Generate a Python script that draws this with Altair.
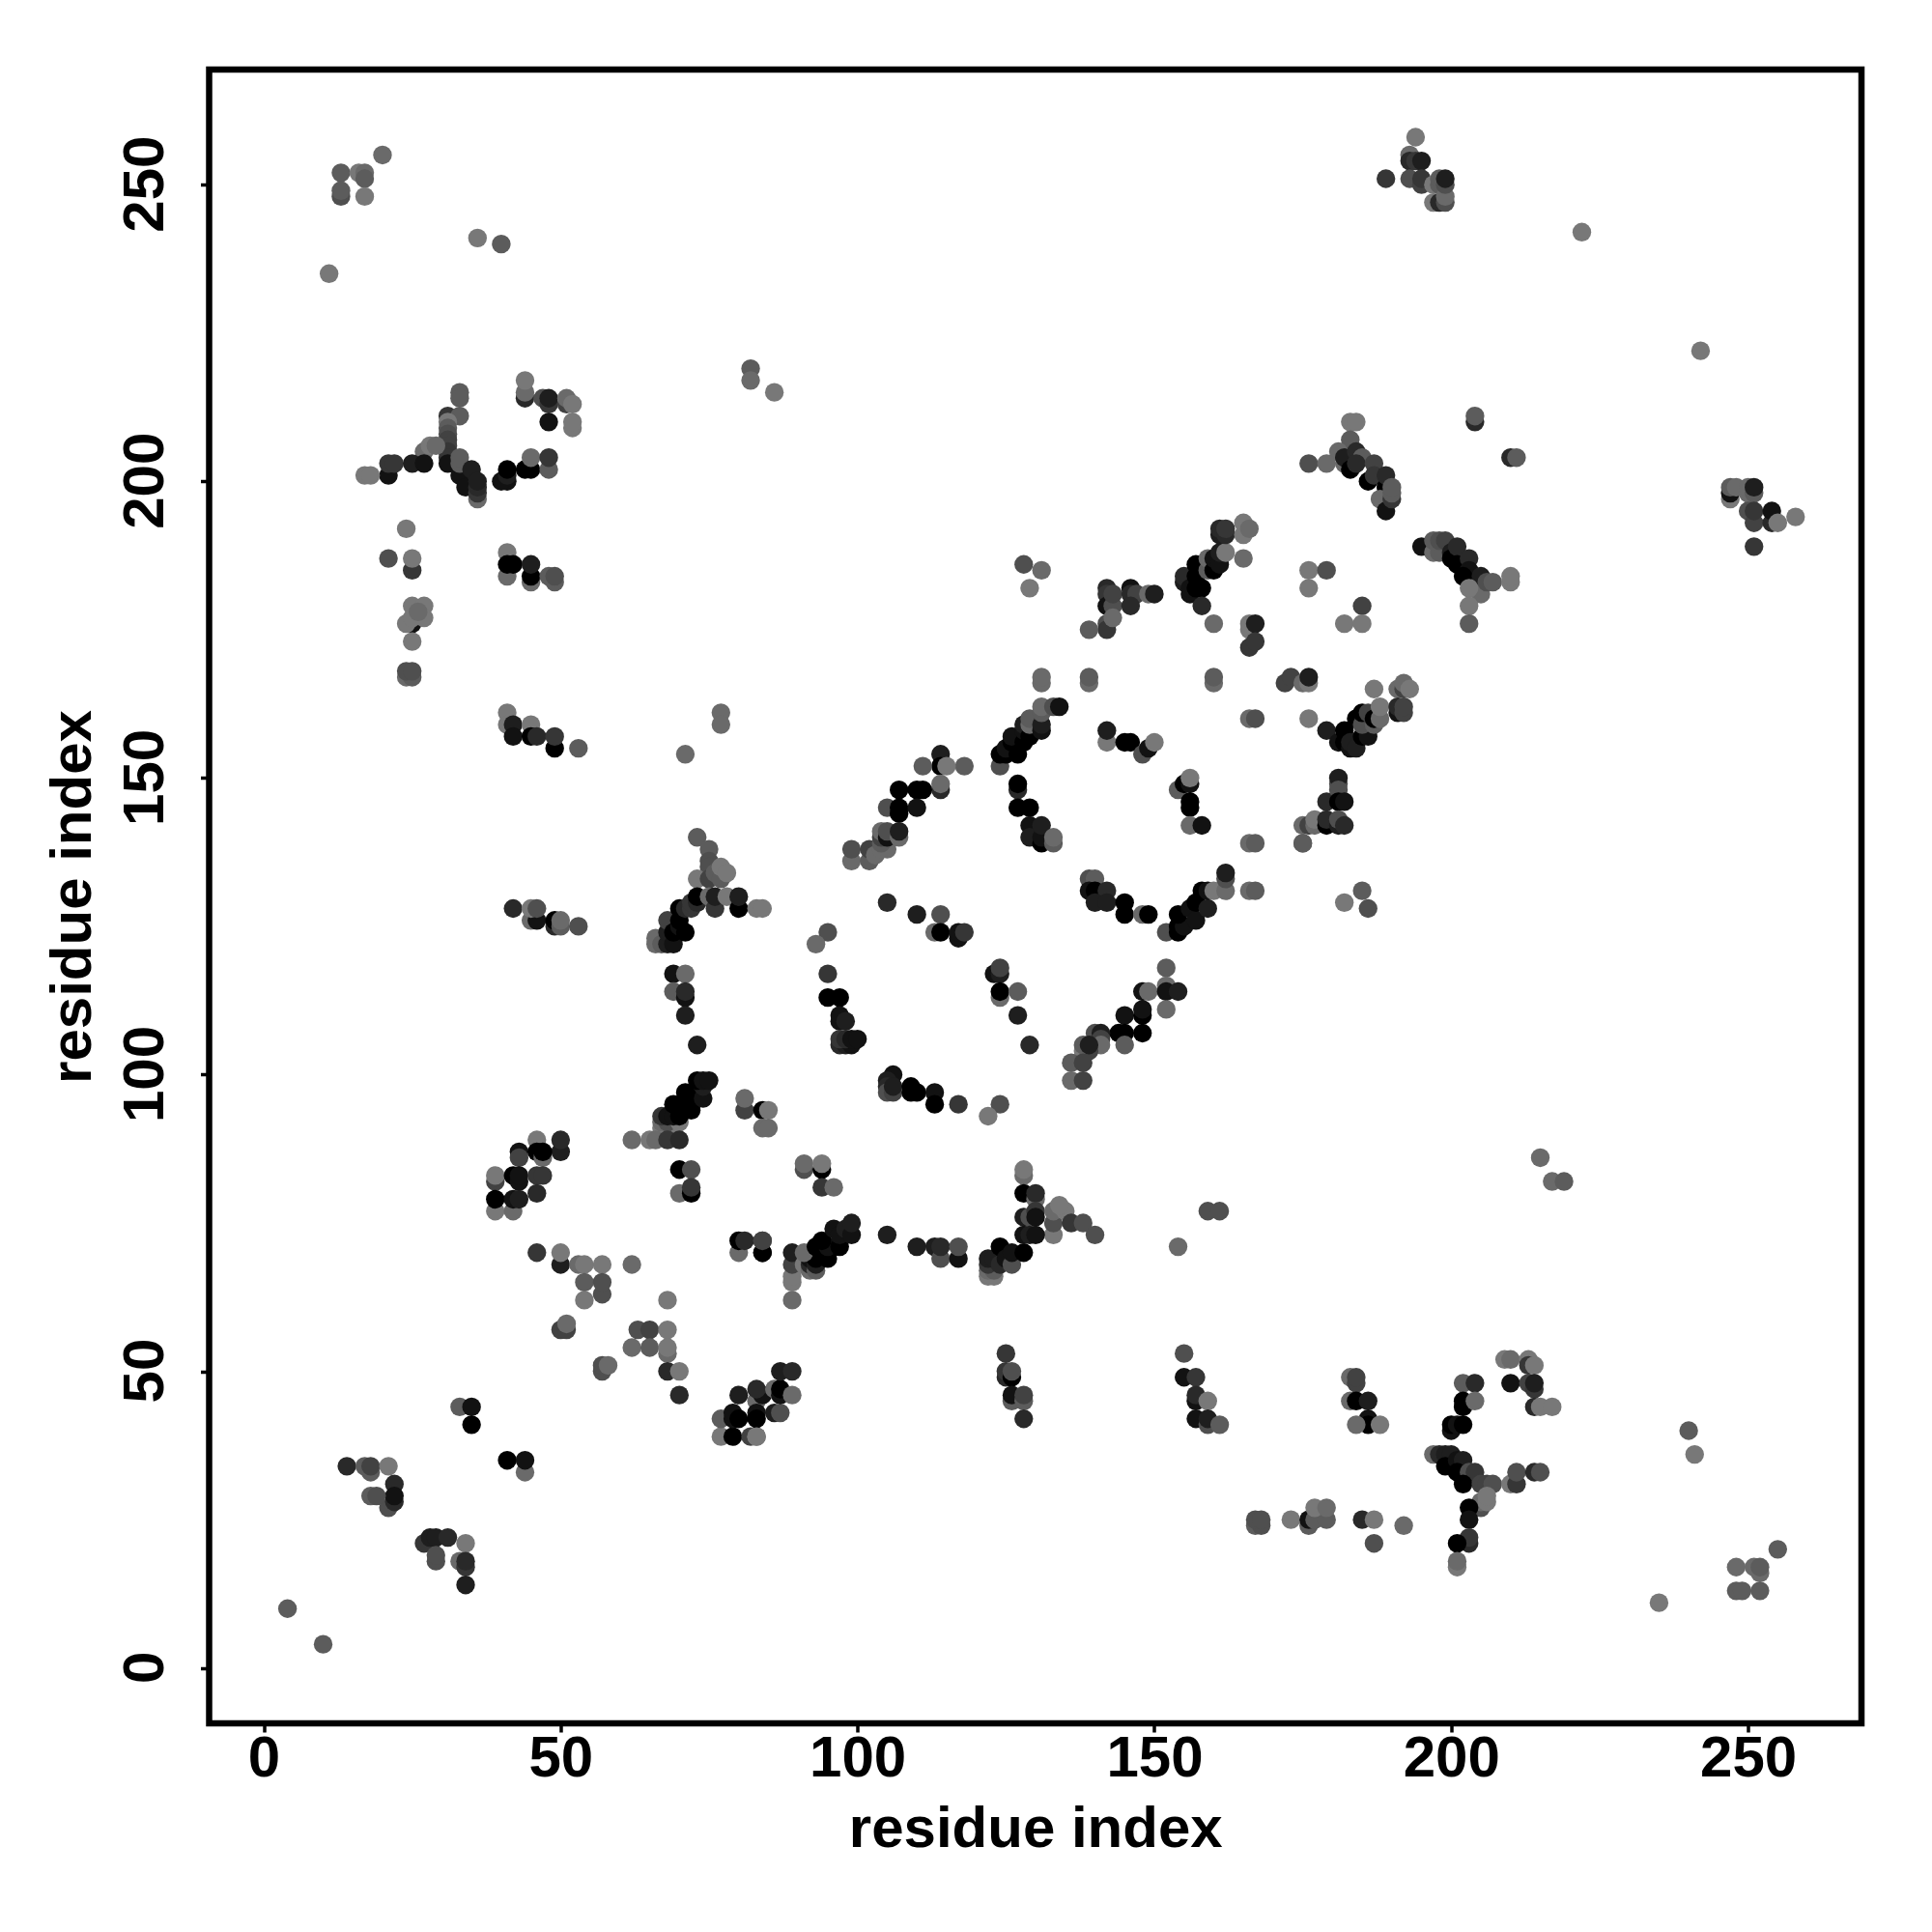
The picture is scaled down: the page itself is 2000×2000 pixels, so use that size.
import altair as alt
import pandas as pd

# Each contact: (residue i, residue j, shade 0=darkest .. 9=lightest)
top_left = [
 (20,255,8),(13,252,7),(16,252,9),(17,252,8),(17,251,7),(17,248,9),(13,248,6),(13,249,7),
 (36,241,9),(40,240,7),(11,235,9),(82,219,7),(82,217,8),(86,215,9),
 (44,214,3),(44,215,8),(44,217,9),(47,214,6),(48,213,4),(48,214,2),(51,213,5),(51,214,8),(52,213,9),
 (48,210,1),(52,209,9),(52,210,9),(33,215,7),(33,214,7),(31,211,4),(33,211,7),
 (31,210,9),(31,209,7),(31,208,6),(31,207,5),(31,206,5),(31,205,4),(31,204,4),(31,203,1),
 (27,205,8),(28,206,9),(29,206,8),(33,201,1),(33,203,7),(33,204,7),(34,199,1),(35,202,2),
 (36,197,8),(36,198,4),(36,199,3),(36,200,2),(41,200,1),(40,200,1),(41,201,2),(41,202,0),
 (44,202,0),(45,202,0),(45,204,8),(48,202,7),(48,204,4),(21,201,1),(21,203,4),(22,203,4),(25,203,2),(27,203,1),
 (17,201,9),(18,201,9),(24,192,9),(21,187,6),(25,185,4),(25,187,9),
 (41,188,9),(41,184,8),(41,186,0),(42,186,0),(45,183,8),(45,184,0),(45,186,2),(48,184,7),(49,183,7),(49,184,6),
 (25,176,1),(24,176,9),(25,179,9),(27,179,9),(25,177,9),(27,177,9),(26,178,8),(25,173,9),
]
left_mid = [
 (24,167,8),(25,167,7),(24,168,6),(25,168,6),
 (41,161,9),(41,159,9),(42,159,2),(42,157,1),(45,159,9),(45,157,0),(46,157,3),(49,155,0),(49,157,4),(53,155,7),
 (77,161,8),(77,159,8),(71,154,8),
 (42,128,3),(45,126,8),(46,126,1),(45,128,9),(46,128,6),(49,125,3),(49,126,0),(50,125,7),(50,126,8),(53,125,6),
 (73,140,7),(75,138,7),(75,136,6),(75,135,6),(73,133,9),(75,133,5),(76,134,7),(77,133,7),(77,135,9),(78,134,9),
 (66,122,8),(66,123,8),(67,122,7),(68,122,2),(68,124,2),(68,126,5),(69,122,1),(69,124,0),(70,125,1),(70,126,0),(70,128,0),
 (71,124,0),(71,128,3),(72,128,4),(72,129,4),(73,129,3),(73,130,0),(75,130,8),(76,128,4),(76,130,2),(78,130,9),(80,128,0),(80,130,2),(83,128,9),(84,128,9),
 (69,117,1),(71,117,8),(69,114,7),(71,113,1),(71,114,3),(71,110,2),(73,105,2),
 (67,91,9),(68,91,9),(67,92,8),(68,92,6),(70,92,9),(67,93,4),(68,93,1),(69,93,1),(70,93,0),(69,95,0),(71,95,0),(72,94,0),(71,97,0),(72,96,0),(73,96,0),(74,96,1),(74,98,2),(73,99,0),(74,99,1),(75,99,1),
 (62,89,8),(65,89,9),(66,89,8),(68,89,4),(70,89,3),
 (70,84,0),(72,84,6),(70,80,8),(72,80,0),(72,81,4),
 (81,94,5),(81,96,8),(84,94,0),(85,94,9),(84,91,8),(85,91,8),
 (46,89,9),(50,87,2),(50,89,3),(43,87,1),(43,86,5),(46,87,0),(47,86,8),(47,87,0),
 (39,82,5),(39,83,9),(42,83,0),(43,82,1),(43,83,1),(46,83,4),(47,83,4),(46,80,3),
 (39,77,9),(42,77,8),(39,79,0),(42,79,1),(43,79,2),
]
bottom_left = [
 (4,10,7),(10,4,7),(18,33,7),(14,34,3),(17,34,7),(18,34,5),(21,34,9),(22,31,3),(21,27,6),(22,28,3),(22,29,1),(18,29,7),(19,29,6),
 (33,44,7),(35,44,1),(35,41,0),(41,35,0),(44,33,8),(44,35,1),
 (27,21,4),(28,22,2),(29,22,2),(31,22,3),(34,21,9),(29,18,6),(29,19,6),(33,18,8),(34,17,4),(34,18,3),(34,14,2),
 (46,70,4),(50,68,2),(50,70,9),(53,68,8),(54,68,9),(57,68,9),(62,68,8),(54,65,7),(57,63,6),(57,65,6),(54,62,9),(68,62,9),
 (50,57,5),(51,57,5),(51,58,8),(63,57,6),(65,57,5),(68,57,9),(62,54,8),(65,54,7),(68,53,8),(68,54,9),
 (57,50,6),(57,51,6),(58,51,8),(68,50,3),(70,50,9),(70,46,3),
 (80,70,8),(80,72,0),(81,72,3),(84,70,0),(84,72,5),
 (77,39,9),(77,42,7),(79,39,0),(79,42,1),(79,43,1),(80,42,0),(82,39,5),(83,39,9),(80,46,2),
 (83,45,8),(83,43,1),(83,42,0),(84,46,1),(83,47,3),(86,47,8),(86,43,2),(87,43,6),
 (87,46,1),(87,47,0),(87,50,2),(89,50,3),(89,46,8),
 (83,39,9),
]
centre = [
 (106,100,1),(105,99,2),(105,98,3),(105,97,6),(106,97,5),(106,98,2),(109,98,0),(109,97,0),(110,97,0),(113,97,1),(113,95,0),(117,95,4),(124,95,6),(122,93,9),
 (91,84,6),(91,85,8),(94,84,0),(94,85,9),(94,81,4),(96,81,8),
 (128,83,8),(128,84,9),(128,80,0),(130,79,8),(130,80,3),(128,76,2),(129,76,6),(130,77,4),(130,76,1),
 (133,73,9),(133,75,6),(133,77,8),(135,77,9),(134,78,9),(136,75,4),(138,75,6),(140,73,6),
 (122,66,9),(123,66,9),(122,67,8),(123,67,7),(122,68,4),(122,69,2),(123,69,2),(124,68,3),(124,71,0),(125,69,1),(126,68,6),(126,70,1),(128,70,0),(128,73,1),(129,73,2),(130,73,1),
 (84,70,0),(84,72,5),(89,62,8),(89,65,9),(89,66,9),(89,68,5),(89,70,2),
 (91,68,9),(92,67,8),(92,68,3),(92,69,1),(93,67,7),(93,68,2),(93,69,0),(91,70,8),(95,69,0),(93,71,0),(95,71,1),(94,72,0),(97,71,0),(96,74,1),(97,73,1),(98,74,2),(99,73,1),(99,75,2),
 (105,73,2),(110,71,2),(113,71,2),(114,69,6),(114,71,3),(117,69,1),(117,71,6),
 (125,53,4),(125,49,3),(125,50,4),(126,49,0),(126,50,6),(126,45,7),(126,46,1),(128,45,7),(128,46,5),(128,42,3),
 (155,53,6),(155,49,1),(157,49,4),(157,45,1),(157,46,3),(159,45,9),(157,42,1),(159,41,6),(159,42,2),(161,41,7),
 (154,71,8),(159,77,6),(161,77,6),
]
ring = [
 (128,186,6),(131,185,8),(129,182,9),
 (142,176,6),(142,175,4),(139,175,7),(142,182,3),(142,181,4),(142,179,1),(143,179,6),(143,181,5),(143,177,8),(146,182,1),(146,181,3),(147,181,5),(146,179,3),(149,181,8),(150,181,2),
 (155,183,2),(155,184,3),(156,181,1),(156,182,1),(157,182,0),(157,184,0),(157,186,0),(158,182,0),(158,179,3),(159,185,7),(159,187,8),(160,185,0),(160,187,1),(161,186,1),(161,188,2),(162,188,9),
 (161,191,2),(161,192,3),(162,191,3),(162,192,4),(165,193,9),(165,191,9),(166,192,8),(165,187,8),(160,176,8),
 (166,175,9),(166,176,9),(167,176,2),(166,172,4),(167,173,4),
 (176,185,9),(179,185,6),(176,182,9),
 (131,166,8),(131,167,8),(139,166,8),(139,167,7),(160,166,8),(160,167,7),(172,166,5),(173,167,5),(175,166,8),(176,166,9),(176,167,2),
 (166,160,8),(167,160,6),(176,160,9),
 (124,152,6),(124,154,0),(125,154,0),(125,155,1),(126,156,0),(126,157,1),(127,154,0),(128,156,0),(128,158,1),(128,159,2),(129,157,0),(129,159,8),(129,160,7),(131,158,1),(131,159,2),(131,161,7),(131,162,8),(133,162,6),(134,162,1),
 (114,154,2),(114,152,0),(111,152,7),(118,152,7),(115,152,9),(114,148,3),(114,149,8),(107,148,0),(110,148,0),(111,148,0),(105,145,6),(107,144,0),(107,145,0),(110,145,1),
 (99,136,8),(102,136,7),(99,138,6),(102,138,5),(103,137,8),(104,138,8),(105,138,8),(104,139,7),(104,140,5),(104,141,8),(105,140,1),(105,141,6),(107,140,8),(107,141,2),
 (142,156,9),(142,158,2),(145,156,0),(146,156,0),(148,154,6),(149,155,1),(150,156,9),
 (127,148,3),(127,149,0),(127,145,0),(129,145,0),(129,142,1),(129,140,2),(131,139,0),(131,140,1),(131,142,2),(133,139,7),(133,140,8),
 (154,148,7),(155,149,0),(156,149,1),(156,150,9),(156,145,0),(156,146,0),(156,142,8),(158,142,1),
 (166,139,8),(167,139,7),(175,139,7),
 (139,133,6),(140,133,7),(139,131,1),(140,131,0),(142,131,3),(140,129,2),(142,129,2),(145,129,0),(145,127,0),(148,127,8),(149,127,0),
 (152,124,6),(154,124,0),(154,125,0),(155,125,1),(154,127,0),(156,128,1),(157,126,1),(157,129,0),(159,128,2),(158,131,0),(159,131,1),(160,131,9),(162,131,8),(162,133,6),(162,134,2),
 (166,131,8),(167,131,7),
 (105,129,3),(110,127,2),(114,127,6),(113,124,8),(114,124,0),(117,123,1),(117,124,1),(118,124,4),
 (95,124,6),(93,122,8),(95,117,4),(95,113,0),(97,113,0),(97,109,1),(97,110,1),(98,109,2),
 (97,105,3),(98,105,2),(99,105,1),(97,106,4),(98,106,3),(99,106,1),(100,106,1),
 (123,117,1),(124,117,2),(124,118,5),(124,113,8),(124,114,0),(127,114,7),(127,110,2),(129,105,3),
 (152,118,7),(152,115,8),(148,114,1),(149,114,8),(152,114,1),(154,114,2),(152,111,8),
 (145,110,1),(148,110,0),(148,111,1),(148,107,0),(144,107,0),(145,107,0),(145,105,7),(140,107,6),(141,107,2),(141,106,5),(141,105,8),
 (138,104,9),(139,104,5),(138,105,7),(139,105,2),(136,102,7),(138,102,5),(136,99,8),(138,99,5),
]
top_right = [
 (194,258,9),(193,255,8),(193,254,3),(194,254,4),(195,254,2),(189,251,4),(193,251,6),(195,250,5),(195,251,4),
 (197,250,9),(197,247,9),(198,247,3),(199,247,6),(198,250,7),(198,251,7),(199,248,8),(199,250,6),(199,251,2),
 (222,242,9),(242,222,9),(204,210,3),(204,211,7),(210,204,3),(211,204,7),
 (183,210,9),(184,210,9),(183,207,7),(181,205,8),(182,203,8),(182,204,2),(184,205,3),(176,203,6),(179,203,8),
 (183,202,0),(185,204,7),(184,203,3),(186,200,0),(187,203,5),(187,201,4),(189,199,0),(189,201,3),(188,197,8),(189,195,1),(190,197,4),(190,198,7),(190,199,7),
 (247,197,9),(247,198,1),(247,199,7),(248,199,8),(250,198,8),(250,199,8),(251,198,7),(251,199,2),(250,195,6),(251,193,5),(251,195,4),(254,193,3),(254,195,1),(255,193,9),(258,194,9),(251,189,4),
 (195,189,1),(197,188,8),(198,188,7),(197,190,7),(198,190,6),(199,190,5),(200,188,2),(200,187,0),(201,189,3),(201,186,0),(203,187,3),(203,185,1),(202,184,0),
 (205,181,8),(205,184,2),(203,182,9),(206,183,6),(207,183,7),(210,183,9),(210,184,9),(203,179,9),(203,176,7),
 (185,179,5),(182,176,9),(185,176,9),
 (187,165,9),(191,165,8),(192,165,5),(192,166,8),(193,165,9),
 (179,158,2),(181,156,1),(182,158,0),(182,156,0),(183,155,1),(183,156,2),(184,155,2),(185,157,0),(186,157,1),
 (184,160,0),(185,159,6),(185,161,0),(186,161,5),(187,159,7),(187,160,0),(188,160,8),(188,162,9),
 (191,161,1),(191,162,3),(192,161,5),(192,162,5),
 (181,149,6),(181,150,2),(179,146,3),(181,148,6),(181,146,0),(182,146,1),
 (175,142,8),(176,142,5),(177,142,8),(177,143,9),(179,142,0),(179,143,3),(181,142,2),(181,143,6),(182,142,3),(175,139,7),
 (185,131,7),(182,129,9),(186,128,6),
]
bottom_right = [
 (215,86,8),(217,82,8),(219,82,7),
 (183,49,8),(184,48,5),(184,49,5),(183,45,8),(184,45,0),(186,45,2),(186,42,1),(186,41,0),(184,41,8),(188,41,9),
 (202,48,7),(204,48,3),(202,44,0),(202,45,0),(204,45,8),
 (200,40,1),(200,41,0),(201,41,1),(202,41,0),
 (209,52,9),(210,52,8),(213,52,9),(213,51,4),(214,51,9),(210,48,1),(213,48,5),(214,47,4),(214,48,2),(214,44,3),(215,44,9),(217,44,9),
 (197,36,8),(198,36,3),(199,36,2),(200,36,2),(199,34,0),(201,35,1),(202,35,2),(201,33,0),(203,33,6),(204,33,4),
 (202,31,0),(205,31,5),(206,31,5),(207,31,6),(210,31,9),(211,31,4),(211,33,6),(214,33,3),(215,33,6),
 (205,27,6),(205,28,8),(206,28,9),(206,29,9),(203,27,0),(203,25,1),(203,21,3),(203,22,4),(201,21,0),(201,17,9),(201,18,8),
 (167,24,7),(168,24,6),(167,25,6),(168,25,6),(173,25,9),(176,24,7),(176,25,1),(177,25,7),(179,25,7),(177,27,9),(179,27,8),
 (185,25,3),(187,25,9),(187,21,6),(192,24,8),
 (240,40,7),(241,36,9),(255,20,7),(248,17,8),(251,17,8),(252,16,8),(252,17,7),(248,13,7),(249,13,7),(252,13,7),(235,11,9),
]

groups = [top_left, left_mid, bottom_left, centre, ring, top_right, bottom_right]
rows = [{"i": a, "j": b, "shade": s} for g in groups for a, b, s in g]
df = pd.DataFrame(rows)

tick_values = [0, 50, 100, 150, 200, 250]
FONT = "Liberation Sans"


def axis(**kw):
    return alt.Axis(
        values=tick_values, title="residue index", grid=False, domain=False,
        tickColor="black", tickWidth=3.5, tickSize=9,
        labelFont=FONT, labelFontSize=60, labelFontWeight="bold", labelColor="black",
        titleFont=FONT, titleFontSize=60, titleFontWeight="bold", titleColor="black",
        labelOverlap=False, labelFlush=False, **kw,
    )


chart = (
    alt.Chart(df)
    .mark_circle(size=375, opacity=1)
    .encode(
        x=alt.X("i:Q", scale=alt.Scale(domain=[-9.2, 269.1], nice=False, zero=False),
                axis=axis(labelPadding=-2, titlePadding=14)),
        y=alt.Y("j:Q", scale=alt.Scale(domain=[-9.33, 269.4], nice=False, zero=False),
                axis=axis(labelAngle=270, labelAlign="center", labelBaseline="bottom",
                          labelPadding=26, titlePadding=14, labelOffset=-1)),
        color=alt.Color("shade:Q", legend=None,
                        scale=alt.Scale(domain=[0, 9], range=["#000000", "#787878"])),
    )
    .properties(
        width=1710.5, height=1712, background="white",
        autosize=alt.AutoSizeParams(type="none"),
        padding={"left": 208.5, "top": 64, "right": 60, "bottom": 200},
    )
    .configure_view(stroke="black", strokeWidth=6.5, fill="white")
)

chart.save("out.html", embed_options={"renderer": "svg", "actions": False})
